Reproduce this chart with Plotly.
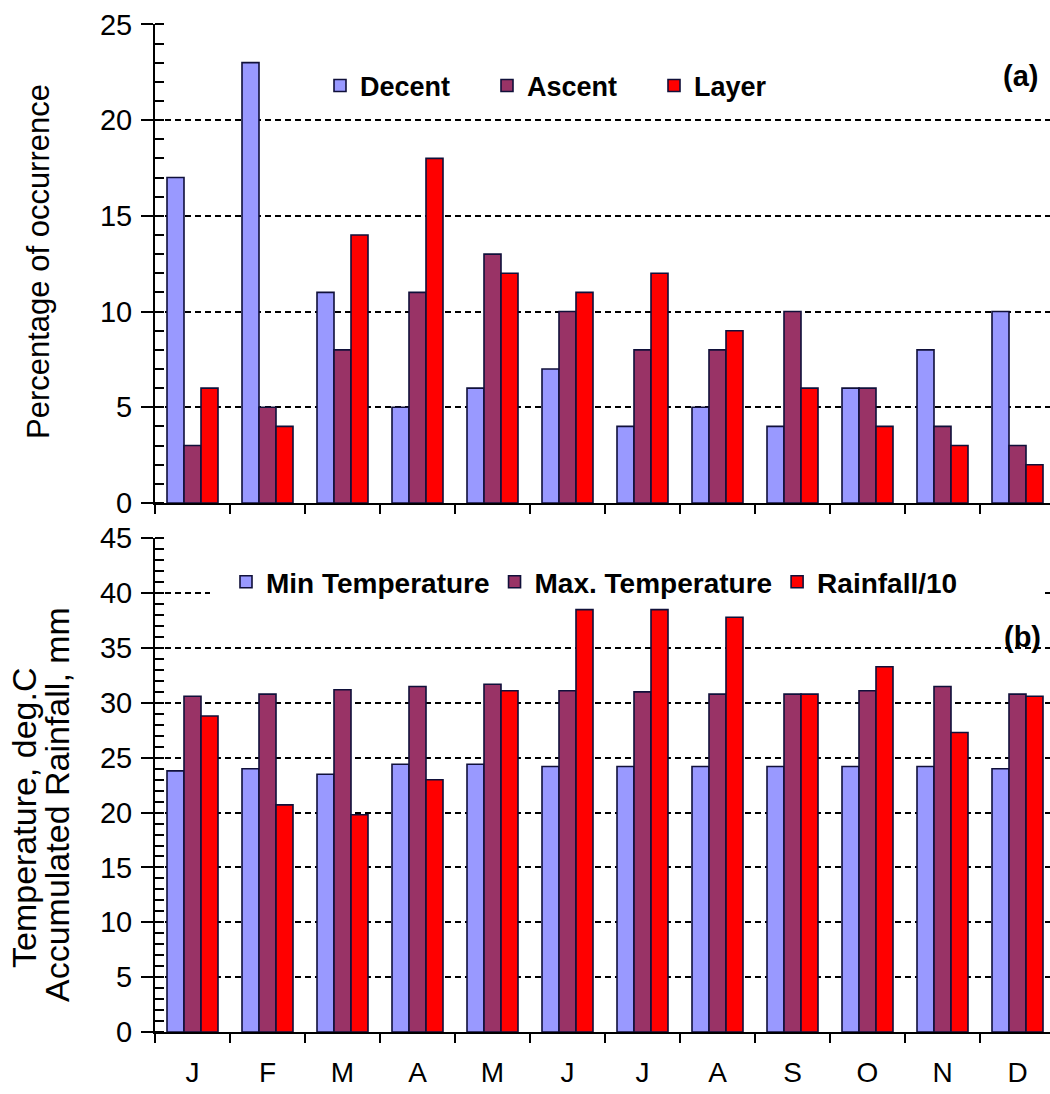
import plotly.graph_objects as go

months = ["J", "F", "M", "A", "M", "J", "J", "A", "S", "O", "N", "D"]
x_idx = list(range(len(months)))

# Panel (a): percentage of occurrence
decent = [17, 23, 11, 5, 6, 7, 4, 5, 4, 6, 8, 10]
ascent = [3, 5, 8, 11, 13, 10, 8, 8, 10, 6, 4, 3]
layer = [6, 4, 14, 18, 12, 11, 12, 9, 6, 4, 3, 2]

# Panel (b): temperature and rainfall
min_temp = [23.8, 24.0, 23.5, 24.4, 24.4, 24.2, 24.2, 24.2, 24.2, 24.2, 24.2, 24.0]
max_temp = [30.6, 30.8, 31.2, 31.5, 31.7, 31.1, 31.0, 30.8, 30.8, 31.1, 31.5, 30.8]
rain10 = [28.8, 20.7, 19.8, 23.0, 31.1, 38.5, 38.5, 37.8, 30.8, 33.3, 27.3, 30.6]

C_DEC = "#9999FF"
C_ASC = "#993366"
C_LAY = "#FF0000"
OUT = "#10103a"
FONT = "Liberation Sans, Arial, sans-serif"

W, H = 1050, 1094
ML, MR, MT, MB = 155, 0, 24, 62
PW = W - ML - MR
PH = H - MT - MB
CAT_PX = 75.0


def px_x(px):
    return (px - ML) / PW


def px_y(py):
    return (H - MB - py) / PH


def px_to_data_x(px):
    return -0.5 + (px - ML) / CAT_PX


fig = go.Figure()

for name, vals, col in [("Decent", decent, C_DEC), ("Ascent", ascent, C_ASC), ("Layer", layer, C_LAY)]:
    fig.add_trace(go.Bar(x=x_idx, y=vals, name=name, marker=dict(color=col, line=dict(color=OUT, width=1.6)),
                         xaxis="x", yaxis="y", legend="legend"))

for name, vals, col in [("Min Temperature", min_temp, C_DEC), ("Max. Temperature", max_temp, C_ASC),
                        ("Rainfall/10", rain10, C_LAY)]:
    fig.add_trace(go.Bar(x=x_idx, y=vals, name=name, marker=dict(color=col, line=dict(color=OUT, width=1.6)),
                         xaxis="x2", yaxis="y2", legend="legend2"))

xr = [-0.5, -0.5 + PW / CAT_PX]
bounds = [i - 0.5 for i in range(13)]

common_x = dict(range=xr, showgrid=False, zeroline=False, showline=True, linecolor="black", linewidth=2,
                tickmode="array", tickvals=x_idx, ticktext=months, ticks="",
                minor=dict(tickmode="array", tickvals=bounds, ticks="outside", ticklen=9, tickwidth=1.5,
                           tickcolor="black", showgrid=False),
                tickfont=dict(family=FONT, size=28, color="black"))

common_y = dict(showgrid=True, gridcolor="black", gridwidth=1.6, griddash="6px,4px", zeroline=False,
                showline=True, linecolor="black", linewidth=2, ticks="outside", ticklen=12, tickwidth=1.5,
                tickcolor="black", tickfont=dict(family=FONT, size=29, color="black"),
                ticklabelstandoff=3)

top_dom = [px_y(503), 1.0]
bot_dom = [0.0, px_y(538)]

fig.update_layout(
    width=W, height=H,
    margin=dict(l=ML, r=MR, t=MT, b=MB),
    paper_bgcolor="white", plot_bgcolor="white",
    barmode="group", bargap=0.32, bargroupgap=0,
    font=dict(family=FONT, color="black"),
    xaxis=dict(common_x, anchor="y", domain=[0, 1], showticklabels=False),
    xaxis2=dict(common_x, anchor="y2", domain=[0, 1], showticklabels=True, ticklabelstandoff=14),
    yaxis=dict(common_y, domain=top_dom, range=[0, 25.02], dtick=5, tick0=0,
               minor=dict(dtick=1, ticks="inside", ticklen=9, tickwidth=1.5, tickcolor="black", showgrid=False)),
    yaxis2=dict(common_y, domain=bot_dom, range=[0, 45.03], dtick=5, tick0=0,
                minor=dict(dtick=1, ticks="inside", ticklen=9, tickwidth=1.5, tickcolor="black", showgrid=False)),
    legend=dict(orientation="h", x=px_x(320), y=px_y(86), xanchor="left", yanchor="middle",
                bgcolor="rgba(255,255,255,0)", font=dict(family=FONT, size=27, color="black", weight="bold"),
                entrywidth=122, entrywidthmode="pixels", traceorder="normal"),
    legend2=dict(orientation="h", x=px_x(226), y=px_y(582), xanchor="left", yanchor="middle",
                 bgcolor="white", font=dict(family=FONT, size=28, color="black", weight="bold"),
                 traceorder="normal"),
    showlegend=True,
)

# white mask behind the legend box, hiding the 40 gridline as in the original
fig.add_shape(type="rect", xref="x2", yref="y2", x0=px_to_data_x(210), x1=px_to_data_x(1045),
              y0=39.6, y1=40.4, fillcolor="white", line=dict(width=0), layer="above")

annots = [
    dict(text="(a)", x=px_x(1020), y=px_y(76), font=dict(size=29, weight="bold")),
    dict(text="(b)", x=px_x(1022), y=px_y(637), font=dict(size=29, weight="bold")),
    dict(text="Percentage of occurrence", x=px_x(38), y=px_y(262), textangle=-90, font=dict(size=31)),
    dict(text="Temperature, deg.C", x=px_x(24), y=px_y(818), textangle=-90, font=dict(size=34)),
    dict(text="Accumulated Rainfall, mm", x=px_x(57), y=px_y(805), textangle=-90, font=dict(size=34)),
]
for a in annots:
    f = dict(family=FONT, color="black")
    f.update(a.pop("font"))
    fig.add_annotation(xref="paper", yref="paper", showarrow=False, xanchor="center", yanchor="middle",
                       font=f, **a)

fig.write_html("out.html")
